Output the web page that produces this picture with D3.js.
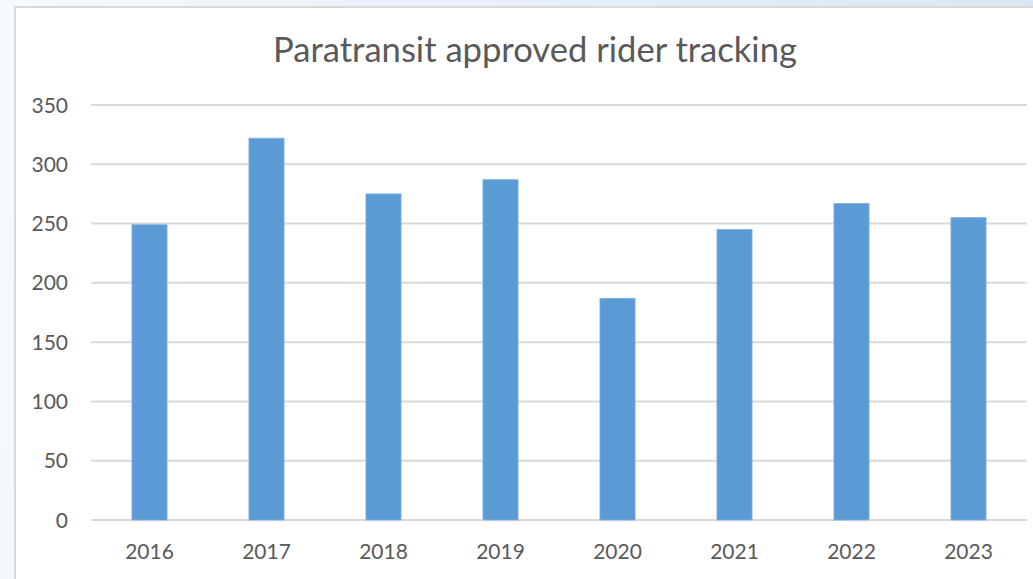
<!DOCTYPE html>
<html><head><meta charset="utf-8">
<script src="https://cdn.jsdelivr.net/npm/d3@7/dist/d3.min.js"></script>
<style>html,body{margin:0;padding:0;overflow:hidden;}</style>
</head><body>
<svg id="c" width="1033" height="579"></svg>
<script>
const title = "Paratransit approved rider tracking";
const categories = ["2016","2017","2018","2019","2020","2021","2022","2023"];
const values = [249, 322, 275, 287, 187, 245, 267, 255];
const yTicks = [0, 50, 100, 150, 200, 250, 300, 350];

const W = 1033, H = 579;
const svg = d3.select("#c");
const defs = svg.append("defs");
const g = defs.append("linearGradient").attr("id","bg").attr("x1","0").attr("y1","1").attr("x2","1").attr("y2","0");
g.append("stop").attr("offset","0").attr("stop-color","#f4f8fd");
g.append("stop").attr("offset","0.5").attr("stop-color","#f6f9fd");
g.append("stop").attr("offset","1").attr("stop-color","#dae6f3");
svg.append("rect").attr("width",W).attr("height",H).attr("fill","url(#bg)");
svg.append("rect").attr("x",15).attr("y",7).attr("width",W).attr("height",H)
  .attr("fill","#fff").attr("stroke","#d9d9d9").attr("stroke-width",2);

const font = "Lato, 'Open Sans', sans-serif";
const x = d3.scaleBand().domain(categories).range([91, 1027]).paddingInner(0.70).paddingOuter(0.35);
const y = d3.scaleLinear().domain([0, 350]).range([520, 105]);

// gridlines
svg.append("g").selectAll("line").data(yTicks).join("line")
  .attr("x1",91).attr("x2",1027).attr("y1",d=>y(d)).attr("y2",d=>y(d))
  .attr("stroke","#d9d9d9").attr("stroke-width",2);

// y labels
svg.append("g").selectAll("text").data(yTicks).join("text")
  .attr("x",68).attr("y",d=>y(d)).attr("dy","0.36em").attr("text-anchor","end")
  .attr("font-family",font).attr("font-size",21).attr("fill","#595959").text(d=>d);

// bars
svg.append("g").selectAll("rect").data(values).join("rect")
  .attr("x",(d,i)=>x(categories[i])).attr("width",x.bandwidth())
  .attr("y",d=>y(d)).attr("height",d=>y(0)-y(d))
  .attr("fill","#5b9bd5").attr("stroke","#7fb0df").attr("stroke-width",0.8);

// x labels
svg.append("g").selectAll("text").data(categories).join("text")
  .attr("x",d=>x(d)+x.bandwidth()/2).attr("y",559).attr("text-anchor","middle")
  .attr("font-family",font).attr("font-size",21).attr("fill","#595959").text(d=>d);

// title
const t = svg.append("text").attr("x",535).attr("y",62).attr("text-anchor","middle")
  .attr("font-family",font).attr("font-size",30).attr("fill","#595959").text(title);
const len = t.node().getComputedTextLength();
t.attr("font-size", 30*524/len);
</script>
</body></html>
